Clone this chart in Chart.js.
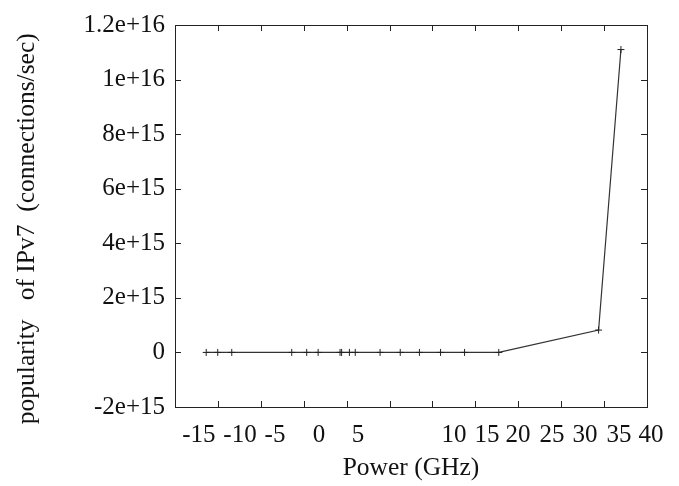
<!DOCTYPE html>
<html>
<head>
<meta charset="utf-8">
<script src="https://cdn.jsdelivr.net/npm/chart.js@4/dist/chart.umd.min.js"></script>
<style>
  html, body { margin: 0; padding: 0; background: #fff; }
  #wrap { width: 679px; height: 486px; }
</style>
</head>
<body>
<div id="wrap"><canvas id="power-chart"></canvas></div>
<script>
// data
const powerGHz = [-14.1, -12.7, -11.0, -3.1, -1.4, -0.1, 2.7, 2.9, 3.9, 4.65, 6.15, 7.2, 8.2, 9.3, 11.6, 16.9, 32.0, 35.3]
const popularity = [0, 0, 0, 0, 0, 0, 0, 0, 0, 0, 0, 0, 0, 0, 0, 0, 8.2e14, 1.11e16]

const xTicks = [-15, -10, -5, 0, 5, 10, 15, 20, 25, 30, 35, 40]
const xTickLabels = ['-15', '-10', '-5', '0', '5', '10', '15', '20', '25', '30', '35', '40']
const yTicks = [-2e15, 0, 2e15, 4e15, 6e15, 8e15, 1e16, 1.2e16]
const yTickLabels = ['-2e+15', '0', '2e+15', '4e+15', '6e+15', '8e+15', '1e+16', '1.2e+16']

// the x axis of the original is not evenly spaced: where each label sits, as a fraction of the plot width
const xKnotPos = [0.0504, 0.1377, 0.2119, 0.3051, 0.3877, 0.5911, 0.6610, 0.7267, 0.7987, 0.8686, 0.9407, 1.0085]

function interp(v, xs, ys) {
  let i = 1
  while (i < xs.length - 1 && v > xs[i]) i++
  const t = (v - xs[i - 1]) / (xs[i] - xs[i - 1])
  return ys[i - 1] + t * (ys[i] - ys[i - 1])
}

// piecewise linear scale
class PiecewiseScale extends Chart.LinearScale {
  getPixelForValue(value) {
    return this.left + interp(value, xTicks, xKnotPos) * this.width
  }
  getValueForPixel(pixel) {
    return interp((pixel - this.left) / this.width, xKnotPos, xTicks)
  }
}
PiecewiseScale.id = 'piecewise'
PiecewiseScale.defaults = Chart.LinearScale.defaults
Chart.register(PiecewiseScale)

// frame + inward tick marks on all four sides
const framePlugin = {
  id: 'frame',
  afterDraw(chart) {
    const { ctx, chartArea: a, scales } = chart
    const tl = 6
    ctx.save()
    ctx.strokeStyle = '#222'
    ctx.lineWidth = 1
    ctx.strokeRect(Math.round(a.left) + 0.5, Math.round(a.top) + 0.5, Math.round(a.width), Math.round(a.height))
    ctx.beginPath()
    for (let k = 1; k < 11; k++) {
      const x = Math.round(a.left + a.width * k / 11) + 0.5
      ctx.moveTo(x, a.bottom); ctx.lineTo(x, a.bottom - tl)
      ctx.moveTo(x, a.top); ctx.lineTo(x, a.top + tl)
    }
    yTicks.forEach(v => {
      const y = Math.round(scales.y.getPixelForValue(v)) + 0.5
      ctx.moveTo(a.left, y); ctx.lineTo(a.left + tl, y)
      ctx.moveTo(a.right, y); ctx.lineTo(a.right - tl, y)
    })
    ctx.stroke()
    ctx.restore()
  }
}

Chart.defaults.font.family = "'Liberation Serif', 'DejaVu Serif', serif"
Chart.defaults.font.size = 25
Chart.defaults.color = '#111'

new Chart(document.getElementById('power-chart'), {
  type: 'line',
  data: {
    datasets: [
      {
        data: powerGHz.map((x, i) => ({ x, y: popularity[i] })),
        borderColor: '#333',
        borderWidth: 1.2,
        pointStyle: 'cross',
        pointRadius: 3.5,
        pointBorderColor: '#222',
        pointBorderWidth: 1,
        tension: 0,
        fill: false
      }
    ]
  },
  plugins: [framePlugin],
  options: {
    responsive: true,
    maintainAspectRatio: false,
    animation: false,
    layout: { padding: { left: 0, right: 32, top: 21, bottom: 0 } },
    plugins: {
      legend: { display: false },
      tooltip: { enabled: false }
    },
    scales: {
      x: {
        type: 'piecewise',
        min: -20,
        max: 45,
        grid: { display: false, drawTicks: false },
        border: { display: false },
        afterBuildTicks: s => { s.ticks = xTicks.map(v => ({ value: v })) },
        afterFit: s => { s.height = 79 },
        ticks: {
          autoSkip: false,
          maxRotation: 0,
          padding: 13,
          callback: (v, i) => xTickLabels[i]
        },
        title: { display: true, text: 'Power (GHz)', font: { size: 25.5 }, padding: { top: 0, bottom: 2 } }
      },
      y: {
        min: -2e15,
        max: 1.2e16,
        grid: { display: false, drawTicks: false },
        border: { display: false },
        afterBuildTicks: s => { s.ticks = yTicks.map(v => ({ value: v })) },
        afterFit: s => { s.width = 175 },
        ticks: {
          padding: 10,
          callback: (v, i) => yTickLabels[i]
        },
        title: {
          display: true,
          text: 'popularity   of IPv7  (connections/sec)    ',
          font: { size: 25.5 },
          padding: { top: 12, bottom: 0 }
        }
      }
    }
  }
})
</script>
</body>
</html>
